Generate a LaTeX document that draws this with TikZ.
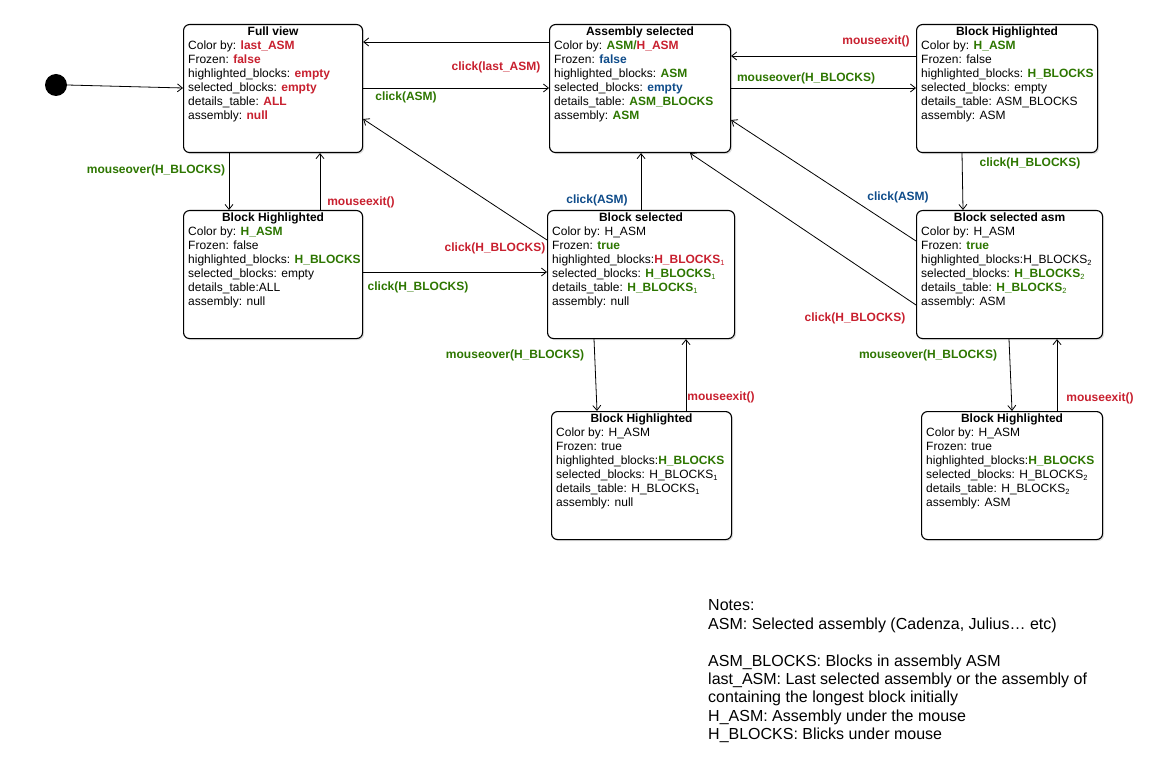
\documentclass[tikz,border=0pt]{standalone}
\usepackage{fontspec}
\setmainfont{Liberation Sans}
\usetikzlibrary{arrows.meta,shadows}
\definecolor{cred}{HTML}{C8202F}
\definecolor{cgreen}{HTML}{2D7600}
\definecolor{cblue}{HTML}{0F4C8A}
\newcommand\Rd[1]{\textcolor{cred}{\textbf{#1}}}
\newcommand\Gn[1]{\textcolor{cgreen}{\textbf{#1}}}
\newcommand\Bl[1]{\textcolor{cblue}{\textbf{#1}}}
\newcommand\sub[1]{\raisebox{-1.5pt}{\fontsize{7.5}{7.5}\selectfont\mdseries #1}}
\tikzset{
  sbox/.style={draw, line width=1.1pt, rounded corners=6pt, fill=white,
    inner sep=0pt, drop shadow={opacity=0.25, shadow xshift=1.5pt, shadow yshift=-1.5pt}},
  stitle/.style={font=\fontsize{12}{14}\selectfont\bfseries, inner sep=0pt},
  sbody/.style={font=\fontsize{12}{14}\selectfont, align=left, inner sep=0pt},
  conn/.style={line width=0.8pt, -{Straight Barb[length=5pt,width=8pt]}},
  lab/.style={font=\fontsize{12}{14}\selectfont\bfseries, inner sep=0pt},
}
\newcommand\statebox[7]{%
  \node[sbox, minimum width=#4pt, minimum height=#5pt, anchor=north west] (#1) at (#2,#3) {};
  \node[stitle, anchor=base] (#1-t) at ([yshift=-11.3pt]#1.north) {#6};
  \node[sbody, anchor=north west] (#1-b) at ([xshift=5pt,yshift=-15.3pt]#1.north west) {\rule{0pt}{10pt}#7};
}
\begin{document}
\begin{tikzpicture}[x=1pt,y=-1pt]
\useasboundingbox (0,0) rectangle (1155,783);

\statebox{fv}{183}{24}{179}{128}{Full view}{Color by: \Rd{last\_ASM}\\Frozen: \Rd{false}\\highlighted\_blocks: \Rd{empty}\\selected\_blocks: \Rd{empty}\\details\_table: \Rd{ALL}\\assembly: \Rd{null}}
\statebox{as}{549}{24}{181}{128}{Assembly selected}{Color by: \Gn{ASM/}\Rd{H\_ASM}\\Frozen: \Bl{false}\\highlighted\_blocks: \Gn{ASM}\\selected\_blocks: \Bl{empty}\\details\_table: \Gn{ASM\_BLOCKS}\\assembly: \Gn{ASM}}
\statebox{bh1}{916}{24}{181}{128}{Block Highlighted}{Color by: \Gn{H\_ASM}\\Frozen: false\\highlighted\_blocks: \Gn{H\_BLOCKS}\\selected\_blocks: empty\\details\_table: ASM\_BLOCKS\\assembly: ASM}
\statebox{bh2}{183}{210}{179}{128}{Block Highlighted}{Color by: \Gn{H\_ASM}\\Frozen: false\\highlighted\_blocks: \Gn{H\_BLOCKS}\\selected\_blocks: empty\\details\_table:ALL\\assembly: null}
\statebox{bs}{547}{210}{187}{128}{Block selected}{Color by: H\_ASM\\Frozen: \Gn{true}\\highlighted\_blocks:\Rd{H\_BLOCKS\sub{1}}\\selected\_blocks: \Gn{H\_BLOCKS\sub{1}}\\details\_table: \Gn{H\_BLOCKS\sub{1}}\\assembly: null}
\statebox{bsa}{916}{210}{186}{128}{Block selected asm}{Color by: H\_ASM\\Frozen: \Gn{true}\\highlighted\_blocks:H\_BLOCKS\sub{2}\\selected\_blocks: \Gn{H\_BLOCKS\sub{2}}\\details\_table: \Gn{H\_BLOCKS\sub{2}}\\assembly: ASM}
\statebox{bh3}{551}{411}{180}{128}{Block Highlighted}{Color by: H\_ASM\\Frozen: true\\highlighted\_blocks:\Gn{H\_BLOCKS}\\selected\_blocks: H\_BLOCKS\sub{1}\\details\_table: H\_BLOCKS\sub{1}\\assembly: null}
\statebox{bh4}{921}{411}{181}{128}{Block Highlighted}{Color by: H\_ASM\\Frozen: true\\highlighted\_blocks:\Gn{H\_BLOCKS}\\selected\_blocks: H\_BLOCKS\sub{2}\\details\_table: H\_BLOCKS\sub{2}\\assembly: ASM}

% initial state
\node[circle, fill=black, minimum size=22pt, inner sep=0pt] (init) at (56,85) {};
\draw[conn] (init.east) -- ([yshift=-64pt]fv.north west);

% connectors
\draw[conn] ([yshift=-18pt]as.north west) -- ([yshift=-18pt]fv.north east);
\draw[conn] ([yshift=-64pt]fv.north east) -- ([yshift=-64pt]as.north west);
\draw[conn] ([yshift=-32pt]bh1.north west) -- ([yshift=-32pt]as.north east);
\draw[conn] ([yshift=-64pt]as.north east) -- ([yshift=-64pt]bh1.north west);
\draw[conn] ([xshift=46pt]fv.south west) -- ([xshift=46pt]bh2.north west);
\draw[conn] ([xshift=137pt]bh2.north west) -- ([xshift=137pt]fv.south west);
\draw[conn] ([yshift=-62pt]bh2.north east) -- ([yshift=-62pt]bs.north west);
\draw[conn] ([yshift=-30pt]bs.north west) -- ([yshift=-95pt]fv.north east);
\draw[conn] (bs.north) -- (bs.north |- as.south);
\draw[conn] ([yshift=-31pt]bsa.north west) -- ([yshift=-96pt]as.north east);
\draw[conn] ([yshift=-95pt]bsa.north west) -- ([xshift=141pt]as.south west);
\draw[conn] ([xshift=46pt]bh1.south west) -- ([xshift=47pt]bsa.north west);
\draw[conn] ([xshift=47pt]bs.south west) -- ([xshift=46pt]bh3.north west);
\draw[conn] ([xshift=135pt]bh3.north west) -- ([xshift=139pt]bs.south west);
\draw[conn] ([xshift=93pt]bsa.south west) -- ([xshift=91pt]bh4.north west);
\draw[conn] ([xshift=136pt]bh4.north west) -- ([xshift=141pt]bsa.south west);

% labels
\node[lab, text=cred] (l1) at (496,67) {click(last\_ASM)};
\node[lab, text=cgreen] (l2) at (406,97) {click(ASM)};
\node[lab, text=cred] (l3) at (876,41) {mouseexit()};
\node[lab, text=cgreen] (l4) at (806,78) {mouseover(H\_BLOCKS)};
\node[lab, text=cgreen] (l5) at (156,170) {mouseover(H\_BLOCKS)};
\node[lab, text=cred] (l6) at (361,202) {mouseexit()};
\node[lab, text=cgreen] (l7) at (418,287) {click(H\_BLOCKS)};
\node[lab, text=cred] (l8) at (495,248) {click(H\_BLOCKS)};
\node[lab, text=cblue] (l9) at (597,200) {click(ASM)};
\node[lab, text=cblue] (l10) at (898,197) {click(ASM)};
\node[lab, text=cgreen] (l11) at (1030,163) {click(H\_BLOCKS)};
\node[lab, text=cred] (l12) at (855,318) {click(H\_BLOCKS)};
\node[lab, text=cgreen] (l13) at (515,355) {mouseover(H\_BLOCKS)};
\node[lab, text=cred] (l14) at (721,397) {mouseexit()};
\node[lab, text=cgreen] (l15) at (928,355) {mouseover(H\_BLOCKS)};
\node[lab, text=cred] (l16) at (1100,398) {mouseexit()};

% notes
\node[font=\fontsize{16}{18.4}\selectfont, align=left, inner sep=0pt, anchor=north west] (notes) at (708,598.7)
 {\rule{0pt}{12pt}Notes:\\ASM: Selected assembly (Cadenza, Julius… etc)\\[18.4pt]ASM\_BLOCKS: Blocks in assembly ASM\\last\_ASM: Last selected assembly or the assembly of\\containing the longest block initially\\H\_ASM: Assembly under the mouse\\H\_BLOCKS: Blicks under mouse};
\end{tikzpicture}
\end{document}
